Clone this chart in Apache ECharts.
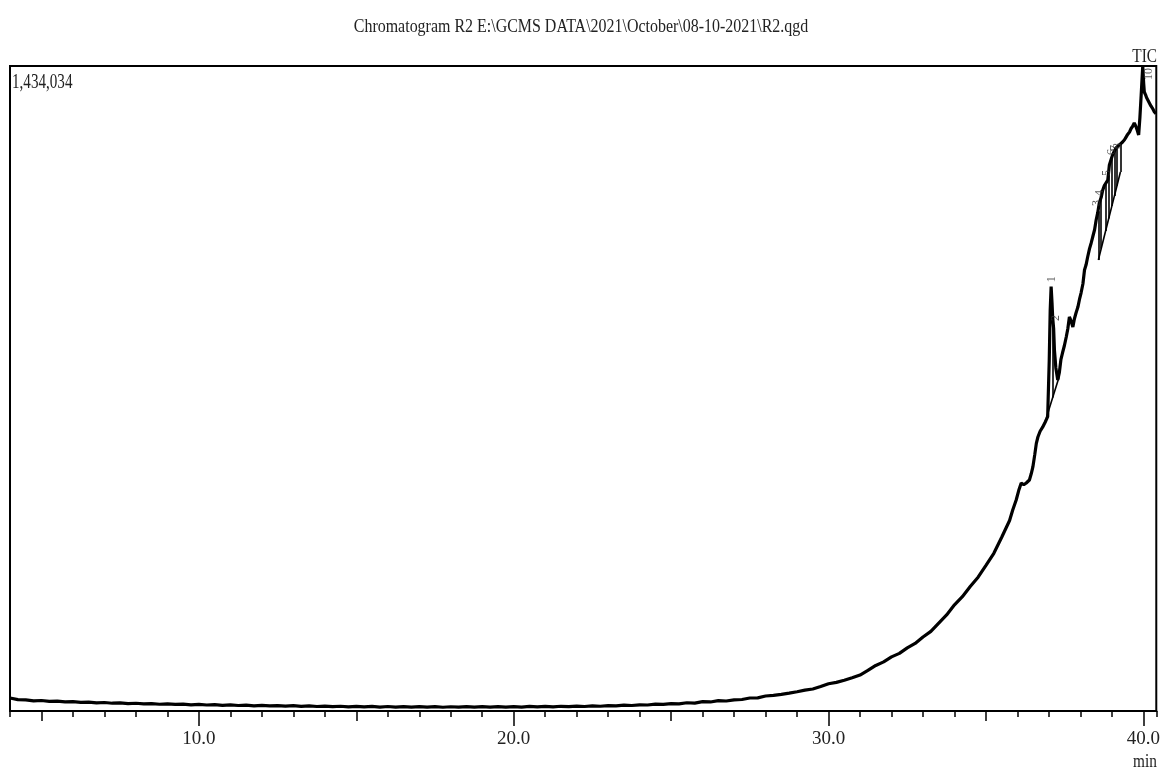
<!DOCTYPE html>
<html>
<head>
<meta charset="utf-8">
<script src="https://cdn.jsdelivr.net/npm/echarts@6/dist/echarts.min.js"></script>
<style>
html,body{margin:0;padding:0;background:#fff;}
#chart{width:1163px;height:775px;}
</style>
</head>
<body>
<div id="chart"></div>
<script>
// ---------------- DATA ----------------
const chartTitle = 'Chromatogram R2 E:\\GCMS DATA\\2021\\October\\08-10-2021\\R2.qgd';
const yMaxLabel = '1,434,034';
const yMax = 1434034;
const xMin = 4.0, xMax = 40.41;
const majorTickValues = [10, 20, 30, 40];
const midTickValues = [5, 15, 25, 35];

// [retention time (min), TIC intensity]
const baselineSegment = [
  [4.00,28900],[4.25,25200],[4.50,24800],[4.75,22600],[5.00,23300],[5.25,21400],[5.50,22000],[5.75,20100],
  [6.00,20900],[6.25,19300],[6.50,19800],[6.75,18200],[7.00,18900],[7.25,17300],[7.50,18100],[7.75,16500],
  [8.00,17200],[8.25,15800],[8.50,16600],[8.75,15000],[9.00,15900],[9.25,14600],[9.50,15300],[9.75,13800],
  [10.00,14700],[10.25,13300],[10.50,14100],[10.75,12600],[11.00,13500],[11.25,12200],[11.50,12900],[11.75,11500],
  [12.00,12600],[12.25,11300],[12.50,12100],[12.75,10700],[13.00,11800],[13.25,10400],[13.50,11300],[13.75,10000],
  [14.00,11000],[14.25,9700],[14.50,10600],[14.75,9300],[15.00,10400],[15.25,9100],[15.50,10200],[15.75,8800],
  [16.00,10000],[16.25,8700],[16.50,9900],[16.75,8500],[17.00,9700],[17.25,8600],[17.50,9600],[17.75,8400],
  [18.00,9500],[18.25,8500],[18.50,9700],[18.75,8600],[19.00,9600],[19.25,8500],[19.50,9800],[19.75,8700],
  [20.00,9700],[20.25,8800],[20.50,10100],[20.75,9000],[21.00,10200],[21.25,9300],[21.50,10500],[21.75,9600],
  [22.00,10900],[22.25,10000],[22.50,11400],[22.75,10600],[23.00,12100],[23.25,11300],[23.50,12900],[23.75,12200],
  [24.00,13800],[24.25,13300],[24.50,15100],[24.75,14600],[25.00,16500]
];
const riseSegment = [
  [25.25,16000],[25.5,18300],[25.75,17600],[26.0,20700],[26.25,20100],[26.5,22900],[26.75,22200],[27.0,24800],
  [27.25,25600],[27.5,28900],[27.75,29300],[28.0,33300],[28.25,34600],[28.5,37000],[28.75,39800],[29.0,42900],
  [29.25,46400],[29.5,49000],[29.75,54400],[30.0,60500],[30.25,63600],[30.5,68400],[30.75,73900],[31.0,80000],
  [31.25,90200],[31.5,101300],[31.75,109200],[32.0,120300],[32.25,128200],[32.5,140300],[32.75,150200],[33.0,164500],
  [33.25,177000],[33.5,195400],[33.75,213600],[34.0,236000],[34.25,254100],[34.5,276800],[34.75,297500],[35.0,323600],
  [35.25,350700],[35.5,386200],[35.75,423500],[35.85,447000],[35.96,469100],[36.04,490000],[36.12,506900],[36.2,503000],
  [36.28,507000],[36.38,513600],[36.44,528000],[36.49,542500],[36.55,570000],[36.6,595000],[36.65,609200],[36.72,622000],
  [36.8,631000],[36.88,642000],[36.96,654300]
];
const peakSegment = [
  [37.01,780000],[37.04,890000],[37.07,943400],[37.10,905000],[37.12,873800],[37.15,850000],[37.175,802600],[37.22,762600],
  [37.28,735900],[37.33,752000],[37.38,781000],[37.43,795900],[37.49,812000],[37.55,831500],[37.6,850000],[37.65,876000],
  [37.7,868000],[37.76,853800],[37.81,872000],[37.86,884900],[37.92,898000],[37.97,915000],[38.02,929300],[38.08,950000],
  [38.13,980500],[38.18,992000],[38.23,1009400],[38.29,1028000],[38.34,1040000],[38.39,1053800],[38.45,1070000],[38.5,1091600],
  [38.55,1108000],[38.6,1129400],[38.66,1142000],[38.71,1158300],[38.76,1168000],[38.82,1172000],[38.87,1180600],[38.92,1213900],
  [38.97,1225000],[39.02,1236000],[39.08,1245000],[39.13,1251700],[39.18,1250000],[39.23,1258000],[39.29,1262000],[39.34,1265100],
  [39.4,1270000],[39.45,1276000],[39.5,1282000],[39.56,1287300],[39.61,1295000],[39.66,1300000],[39.71,1307300],[39.76,1300000],
  [39.81,1290000],[39.85,1280600],[39.89,1320000],[39.93,1369600],[39.98,1434034],[40.01,1395000],[40.03,1376200],[40.07,1370000],
  [40.1,1364000],[40.14,1362900],[40.19,1352000],[40.24,1345200],[40.29,1340000],[40.35,1331800],[40.4,1328000]
];

// integration baselines: [[t1, I1], [t2, I2]]
const integrationBaselines = [
  [[36.92,652000],[37.32,742000]],
  [[38.57,1002700],[39.27,1198400]]
];
// peak drop lines: [t, curve intensity, baseline intensity]
const peakDrops = [
  [37.13,868000,697000],
  [38.57,1111000,1002700],[38.66,1142000,1027900],[38.80,1171000,1067000],[38.90,1200000,1095000],
  [39.00,1232000,1123000],[39.08,1245000,1145000],[39.16,1251000,1168000],[39.27,1261000,1198400]
];
// peak number labels: [t, intensity, text]
const peakLabels = [
  [37.08,960000,'1'],[37.21,873800,'2'],[38.51,1129400,'3'],[38.63,1151700,'4'],[38.83,1196100,'5'],
  [38.99,1242800,'6'],[39.10,1251700,'7'],[39.19,1256100,'8'],[40.16,1416300,'10']
];

// ---------------- CHART ----------------
const chart = echarts.init(document.getElementById('chart'), null, {renderer: 'canvas'});
const serif = '"Liberation Serif", "Times New Roman", serif';
const ticData = baselineSegment.concat(riseSegment, peakSegment);

const lineSegs = integrationBaselines.map(s => ({coords: s}))
  .concat(peakDrops.map(d => ({coords: [[d[0], d[1]], [d[0], d[2]]]})));

const baseX = {
  type: 'value', min: xMin, max: xMax, position: 'bottom',
  splitLine: {show: false}
};

chart.setOption({
  animation: false,
  backgroundColor: '#fff',
  grid: {left: 10, right: 6, top: 66, bottom: 64, show: true, borderColor: '#000', borderWidth: 2, containLabel: false},
  xAxis: [
    Object.assign({}, baseX, {
      interval: 1,
      axisLine: {show: true, lineStyle: {color: '#000', width: 2}},
      axisTick: {show: true, length: 6, lineStyle: {color: '#000', width: 1.5}},
      axisLabel: {show: false}
    }),
    Object.assign({}, baseX, {
      axisLine: {show: false},
      axisTick: {show: true, length: 10, customValues: midTickValues, lineStyle: {color: '#000', width: 1.5}},
      axisLabel: {show: false}
    }),
    Object.assign({}, baseX, {
      axisLine: {show: false},
      axisTick: {show: true, length: 15, customValues: majorTickValues, lineStyle: {color: '#000', width: 1.5}},
      axisLabel: {
        show: true, customValues: majorTickValues, margin: 19,
        formatter: v => v.toFixed(1),
        fontFamily: serif, fontSize: 19, color: '#222'
      }
    })
  ],
  yAxis: {type: 'value', min: 0, max: yMax, show: false, splitLine: {show: false}},
  series: [
    {
      type: 'line', data: ticData, showSymbol: false, symbol: 'none',
      lineStyle: {color: '#000', width: 3.2}, clip: true, z: 3
    },
    {
      type: 'lines', coordinateSystem: 'cartesian2d', data: lineSegs,
      lineStyle: {color: '#000', width: 1.6, opacity: 1}, z: 2
    },
    {
      type: 'scatter', data: peakLabels, symbolSize: 1,
      itemStyle: {color: 'rgba(0,0,0,0)'},
      label: {
        show: true, position: 'inside', rotate: 90,
        formatter: p => p.value[2],
        fontFamily: serif, fontSize: 12, color: '#333'
      },
      z: 4
    }
  ],
  graphic: [
    {type: 'text', x: 581, y: 27, scaleX: 0.84, z: 10,
      style: {text: chartTitle, font: '19px ' + serif, fill: '#222', textAlign: 'center', textVerticalAlign: 'middle'}},
    {type: 'text', x: 12, y: 82, scaleX: 0.72, z: 10,
      style: {text: yMaxLabel, font: '21px ' + serif, fill: '#222', textAlign: 'left', textVerticalAlign: 'middle'}},
    {type: 'text', x: 1157, y: 57, scaleX: 0.85, z: 10,
      style: {text: 'TIC', font: '18px ' + serif, fill: '#222', textAlign: 'right', textVerticalAlign: 'middle'}},
    {type: 'text', x: 1145, y: 762, scaleX: 0.85, z: 10,
      style: {text: 'min', font: '18px ' + serif, fill: '#222', textAlign: 'center', textVerticalAlign: 'middle'}}
  ]
});
</script>
</body>
</html>
